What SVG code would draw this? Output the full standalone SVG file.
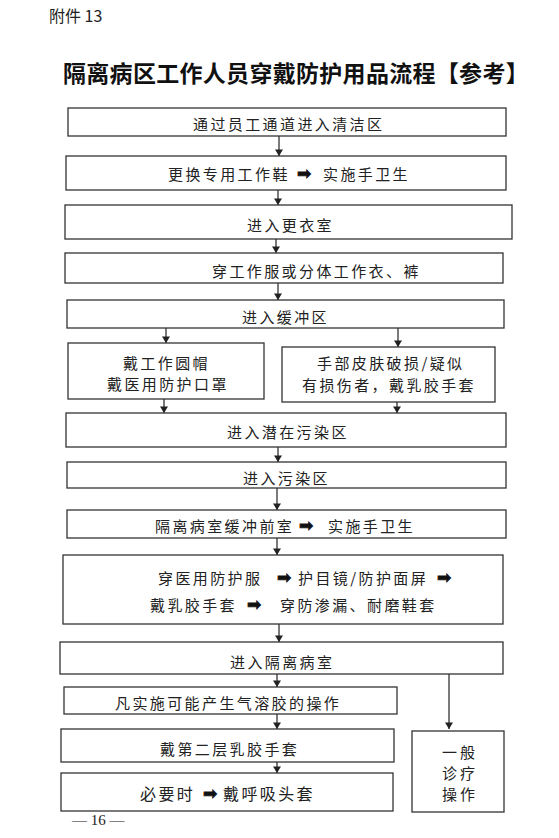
<svg xmlns="http://www.w3.org/2000/svg" width="559" height="838" viewBox="0 0 559 838">
<defs>
<marker id="ah" viewBox="0 0 8 10" refX="8" refY="5" markerWidth="7" markerHeight="8" markerUnits="userSpaceOnUse" orient="auto">
<path d="M0,0 L8,5 L0,10 Z" fill="#222"/>
</marker>
<style>
.box{fill:#fff;stroke:#333;stroke-width:1.3}
.t{font-family:"Noto Sans CJK SC","Noto Sans CJK TC",sans-serif;font-size:15px;letter-spacing:2.4px;fill:#222;dominant-baseline:central}
.ar{font-family:"DejaVu Sans",sans-serif;font-size:17px;fill:#111;stroke:#111;stroke-width:0.7;dominant-baseline:central}
.c{stroke:#222;stroke-width:1.2;fill:none;marker-end:url(#ah)}
</style>
</defs>
<rect width="559" height="838" fill="#fff"/>
<text x="49" y="15" style="font-family:'Noto Sans CJK SC',sans-serif;font-size:16px;fill:#222;dominant-baseline:central">附件 13</text>
<text x="63" y="72" style="font-family:'Noto Sans CJK SC',sans-serif;font-size:23px;font-weight:700;letter-spacing:0.3px;fill:#111;dominant-baseline:central">隔离病区工作人员穿戴防护用品流程【参考】</text>

<g id="connectors">
<line class="c" x1="279" y1="136" x2="279" y2="156"/>
<line class="c" x1="278" y1="190" x2="278" y2="205"/>
<line class="c" x1="276" y1="239" x2="276" y2="253"/>
<line class="c" x1="278" y1="283" x2="278" y2="300"/>
<line class="c" x1="166" y1="328" x2="166" y2="343"/>
<line class="c" x1="398" y1="328" x2="398" y2="347"/>
<line class="c" x1="164" y1="399" x2="164" y2="413"/>
<line class="c" x1="397" y1="402" x2="397" y2="413"/>
<line class="c" x1="278" y1="447" x2="278" y2="462"/>
<line class="c" x1="277" y1="488" x2="277" y2="510"/>
<line class="c" x1="277" y1="538" x2="277" y2="555"/>
<line class="c" x1="279" y1="624" x2="279" y2="642"/>
<line class="c" x1="277" y1="674" x2="277" y2="687"/>
<line class="c" x1="449" y1="674" x2="449" y2="729"/>
<line class="c" x1="277" y1="714" x2="277" y2="729"/>
<line class="c" x1="277" y1="762" x2="277" y2="773"/>
</g>

<g id="n1"><rect class="box" x="68" y="108" width="438" height="28"/><text class="t" x="193" y="123">通过员工通道进入清洁区</text></g>
<g id="n2"><rect class="box" x="66" y="156" width="440" height="34"/><text class="t" x="168" y="173">更换专用工作鞋</text><text class="ar" x="297" y="173">➡</text><text class="t" x="323" y="173">实施手卫生</text></g>
<g id="n3"><rect class="box" x="65" y="205" width="447" height="34"/><text class="t" x="247" y="224">进入更衣室</text></g>
<g id="n4"><rect class="box" x="65" y="253" width="438" height="30"/><text class="t" x="212" y="270">穿工作服或分体工作衣、裤</text></g>
<g id="n5"><rect class="box" x="67" y="300" width="437" height="28"/><text class="t" x="242" y="316">进入缓冲区</text></g>
<g id="n6a"><rect class="box" x="68" y="343" width="196" height="56"/><text class="t" x="123" y="362">戴工作圆帽</text><text class="t" x="107" y="383">戴医用防护口罩</text></g>
<g id="n6b"><rect class="box" x="282" y="347" width="213" height="55"/><text class="t" x="317" y="362">手部皮肤破损/疑似</text><text class="t" x="302" y="384">有损伤者，戴乳胶手套</text></g>
<g id="n7"><rect class="box" x="66" y="413" width="440" height="34"/><text class="t" x="227" y="431">进入潜在污染区</text></g>
<g id="n8"><rect class="box" x="67" y="462" width="439" height="26"/><text class="t" x="243" y="477">进入污染区</text></g>
<g id="n9"><rect class="box" x="67" y="510" width="439" height="28"/><text class="t" x="155" y="525">隔离病室缓冲前室</text><text class="ar" x="299" y="525">➡</text><text class="t" x="328" y="525">实施手卫生</text></g>
<g id="n10"><rect class="box" x="63" y="555" width="440" height="69"/>
<text class="t" x="158" y="577">穿医用防护服</text><text class="ar" x="277" y="577">➡</text><text class="t" x="298" y="577">护目镜/防护面屏</text><text class="ar" x="437" y="577">➡</text>
<text class="t" x="150" y="604">戴乳胶手套</text><text class="ar" x="247" y="604">➡</text><text class="t" x="280" y="604">穿防渗漏、耐磨鞋套</text></g>
<g id="n11"><rect class="box" x="60" y="642" width="443" height="32"/><text class="t" x="230" y="661">进入隔离病室</text></g>
<g id="n12"><rect class="box" x="64" y="687" width="333" height="27"/><text class="t" x="115" y="702">凡实施可能产生气溶胶的操作</text></g>
<g id="n13"><rect class="box" x="61" y="729" width="333" height="33"/><text class="t" x="160" y="748">戴第二层乳胶手套</text></g>
<g id="n14"><rect class="box" x="61" y="773" width="332" height="38"/><text class="t" x="140" y="793" style="font-size:16px">必要时</text><text class="ar" x="203" y="793">➡</text><text class="t" x="223" y="793" style="font-size:16px">戴呼吸头套</text></g>
<g id="n15"><rect class="box" x="412" y="731" width="92" height="81"/><text class="t" x="442" y="751" style="letter-spacing:3px">一般</text><text class="t" x="442" y="772" style="letter-spacing:3px">诊疗</text><text class="t" x="442" y="793" style="letter-spacing:3px">操作</text></g>

<text x="72" y="820" style="font-family:'Liberation Serif',serif;font-size:15px;fill:#222;dominant-baseline:central">— 16 —</text>
</svg>
